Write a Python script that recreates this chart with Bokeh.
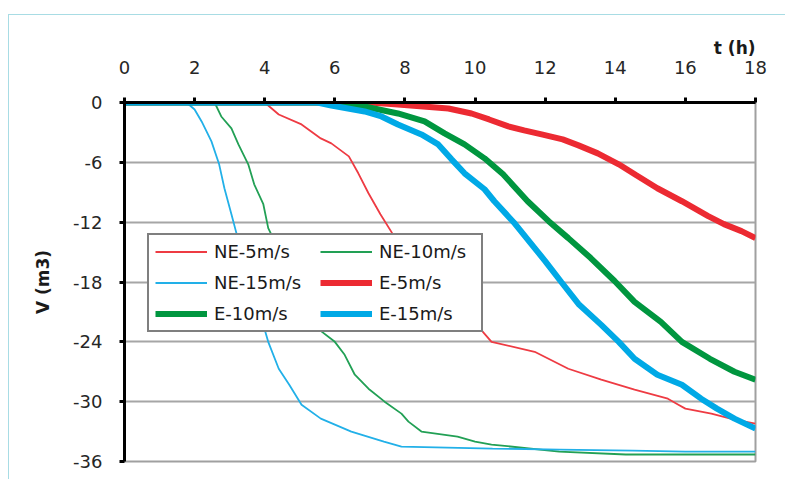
from bokeh.plotting import figure
from bokeh.models import (Range1d, FixedTicker, Legend, LegendItem, CustomJSTickFormatter)
from bokeh.embed import file_html
from bokeh.resources import INLINE

# ---- data ----
x_ticks = [0, 2, 4, 6, 8, 10, 12, 14, 16, 18]
y_ticks = [0, -6, -12, -18, -24, -30, -36]

ne5_t = [0, 4.0, 4.4, 5.05, 5.6, 5.9, 6.4, 6.67, 6.96, 7.3, 7.6, 8.2, 8.8, 9.4, 10.1, 10.47,
         11.7, 12.66, 13.6, 14.55, 15.5, 15.8, 16.0, 16.74, 17.4, 18]
ne5_v = [0, 0, -1.2, -2.2, -3.6, -4.1, -5.4, -7.1, -9.1, -11.2, -12.9, -16.5, -19.5, -21.5, -22.5, -24,
         -25, -26.7, -27.8, -28.8, -29.7, -30.3, -30.7, -31.2, -31.8, -32.2]

ne10_t = [0, 2.57, 2.76, 3.05, 3.25, 3.53, 3.7, 3.96, 4.1, 4.5, 5.0, 5.56, 6.0, 6.28, 6.57, 6.96,
          7.42, 7.9, 8.1, 8.47, 9.5, 10.0, 10.47, 12.4, 14.3, 18]
ne10_v = [0, 0, -1.4, -2.6, -4.2, -6.2, -8.2, -10.2, -12.6, -15.5, -19.2, -22.8, -24, -25.3, -27.3, -28.7,
          -30, -31.2, -32, -33, -33.5, -34, -34.3, -35, -35.3, -35.3]

ne15_t = [0, 1.77, 2.0, 2.2, 2.48, 2.7, 2.85, 3.05, 3.2, 3.45, 3.75, 4.0, 4.1, 4.4, 4.7, 5.05,
          5.6, 6.47, 7.4, 7.9, 10.5, 12.4, 14.5, 16, 18]
ne15_v = [0, 0, -0.7, -1.9, -3.9, -6.2, -8.6, -11.2, -13.2, -16.5, -20, -22.8, -24, -26.7, -28.3, -30.3,
          -31.7, -33, -34, -34.5, -34.7, -34.8, -34.9, -35.0, -35.0]

e5_t = [0, 7.0, 7.8, 9.24, 9.9, 10.4, 10.95, 11.4, 11.9, 12.5, 12.95, 13.5, 14.1, 14.6, 15.2,
        15.9, 16.65, 17.1, 17.6, 18]
e5_v = [0, 0, -0.2, -0.6, -1.1, -1.7, -2.4, -2.8, -3.2, -3.7, -4.3, -5.1, -6.2, -7.3, -8.6,
        -9.9, -11.4, -12.2, -12.9, -13.6]

e10_t = [0, 6.0, 6.85, 7.8, 8.56, 9.13, 9.7, 10.27, 10.8, 11.5, 12.1, 12.66, 13.3, 13.98, 14.55,
         15.3, 15.9, 16.7, 17.4, 18]
e10_v = [0, 0, -0.4, -1.1, -1.9, -3.1, -4.2, -5.6, -7.2, -9.9, -11.9, -13.6, -15.6, -17.9, -20,
         -22, -24, -25.7, -27, -27.8]

e15_t = [0, 5.5, 5.9, 6.85, 7.33, 7.8, 8.47, 8.95, 9.33, 9.7, 10.27, 10.55, 11.1, 11.7, 12.0,
         12.46, 12.95, 13.6, 14.1, 14.55, 15.2, 15.9, 16.45, 16.9, 17.4, 18]
e15_v = [0, 0, -0.3, -0.9, -1.4, -2.2, -3.2, -4.2, -5.7, -7.1, -8.7, -9.9, -12, -14.6, -15.9,
         -18, -20.2, -22.3, -24, -25.7, -27.3, -28.3, -29.7, -30.7, -31.7, -32.7]

labels = ["NE-5m/s", "NE-10m/s", "NE-15m/s", "E-5m/s", "E-10m/s", "E-15m/s"]

RED, GREEN, CYAN = "#ec2a32", "#00963f", "#00a9e6"
RED_T, GREEN_T, CYAN_T = "#ee3b43", "#22a055", "#22b0e8"
FONT = "DejaVu Sans"

p = figure(width=777, height=465, x_range=Range1d(0, 18), y_range=Range1d(-36, 0),
           x_axis_location="above", output_backend="svg", toolbar_location=None,
           min_border_left=115, min_border_right=31, min_border_top=87, min_border_bottom=19,
           margin=(14, 0, 0, 8),
           title="t (h)")
p.styles = {"border-left": "1.5px solid #a8dce4", "border-top": "1.5px solid #a8dce4"}
p.background_fill_color = "white"
p.border_fill_color = "white"
p.outline_line_color = "#a0a0a0"
p.outline_line_width = 2

# title used as x-axis caption at top right
p.title.align = "right"
p.title.text_font = FONT
p.title.text_font_size = "17px"
p.title.text_font_style = "bold"
p.title.text_color = "#1a1a1a"
p.title.standoff = 0

# grid
p.xgrid.grid_line_color = None
p.ygrid.grid_line_color = "#a6a6a6"
p.ygrid.grid_line_width = 2
p.ygrid.ticker = FixedTicker(ticks=y_ticks)

# axes
xa = p.xaxis[0]
xa.ticker = FixedTicker(ticks=x_ticks)
ya = p.yaxis[0]
ya.ticker = FixedTicker(ticks=y_ticks)
ya.formatter = CustomJSTickFormatter(code="return String(tick);")
for ax in (xa, ya):
    ax.axis_line_color = "black"
    ax.axis_line_width = 3
    ax.major_tick_line_color = "black"
    ax.major_tick_line_width = 3
    ax.major_tick_out = 5
    ax.major_tick_in = 0
    ax.minor_tick_line_color = None
    ax.major_label_text_font = FONT
    ax.major_label_text_font_size = "18px"
    ax.major_label_text_color = "#262626"
xa.major_label_standoff = 24
ya.major_label_standoff = 17
ya.axis_label = "V (m3)"
ya.axis_label_text_font = FONT
ya.axis_label_text_font_size = "17px"
ya.axis_label_text_font_style = "bold"
ya.axis_label_text_color = "#1a1a1a"
ya.axis_label_standoff = 17

# series
r_ne5 = p.line(ne5_t, ne5_v, line_color=RED_T, line_width=1.8)
r_ne10 = p.line(ne10_t, ne10_v, line_color=GREEN_T, line_width=1.8)
r_ne15 = p.line(ne15_t, ne15_v, line_color=CYAN_T, line_width=1.8)
r_e5 = p.line(e5_t, e5_v, line_color=RED, line_width=6)
r_e10 = p.line(e10_t, e10_v, line_color=GREEN, line_width=6)
r_e15 = p.line(e15_t, e15_v, line_color=CYAN, line_width=6)

rends = dict(zip(labels, [r_ne5, r_ne10, r_ne15, r_e5, r_e10, r_e15]))
# legend is filled column by column: column 1 then column 2
order = ["NE-5m/s", "NE-15m/s", "E-10m/s", "NE-10m/s", "E-5m/s", "E-15m/s"]
legend = Legend(items=[LegendItem(label=l, renderers=[rends[l]]) for l in order],
                location=(23, 129), ncols=2)
legend.glyph_width = 52
legend.glyph_height = 15
legend.label_height = 15
legend.label_width = 96
legend.spacing = 10
legend.padding = 6
legend.margin = 0
legend.label_standoff = 7
legend.label_text_font = FONT
legend.label_text_font_size = "18px"
legend.label_text_color = "#1a1a1a"
legend.border_line_color = "black"
legend.border_line_width = 2
legend.background_fill_color = "white"
legend.background_fill_alpha = 1
p.add_layout(legend)

open("out.html", "w").write(file_html(p, INLINE))
